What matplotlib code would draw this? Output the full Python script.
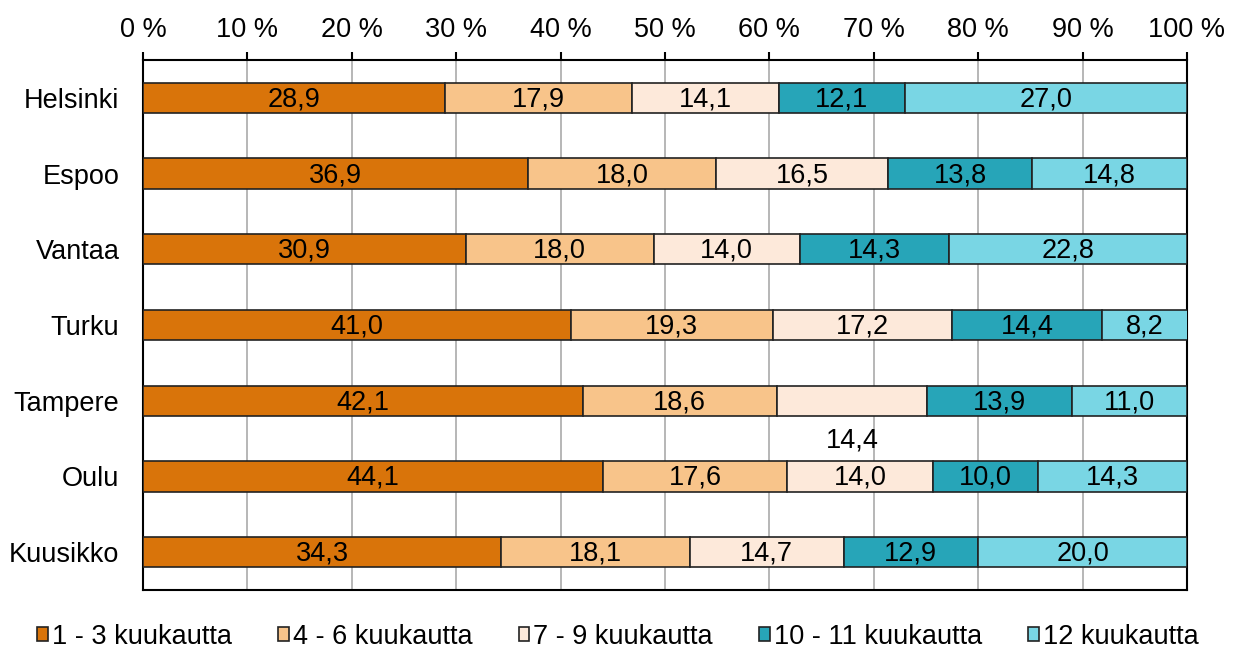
import matplotlib
matplotlib.use("Agg")
import matplotlib.pyplot as plt
from matplotlib.patches import Patch

plt.rcParams['font.family'] = ['Liberation Sans', 'DejaVu Sans']

cities = ["Helsinki", "Espoo", "Vantaa", "Turku", "Tampere", "Oulu", "Kuusikko"]
series_names = ["1 - 3 kuukautta", "4 - 6 kuukautta", "7 - 9 kuukautta",
                "10 - 11 kuukautta", "12 kuukautta"]
s1 = [28.9, 36.9, 30.9, 41.0, 42.1, 44.1, 34.3]
s2 = [17.9, 18.0, 18.0, 19.3, 18.6, 17.6, 18.1]
s3 = [14.1, 16.5, 14.0, 17.2, 14.4, 14.0, 14.7]
s4 = [12.1, 13.8, 14.3, 14.4, 13.9, 10.0, 12.9]
s5 = [27.0, 14.8, 22.8, 8.2, 11.0, 14.3, 20.0]
colors = ["#D9740A", "#F8C48A", "#FDE9DA", "#27A5B8", "#79D6E4"]
xticks = [0, 10, 20, 30, 40, 50, 60, 70, 80, 90, 100]

series = [s1, s2, s3, s4, s5]
FS = 19.5

fig = plt.figure(figsize=(12.36, 6.48), dpi=100)
ax = fig.add_axes([143/1236, 1 - 590/648, (1187-143)/1236, (590-60)/648])

y = list(range(len(cities)))
left = [0.0] * len(cities)
for si, (vals, col) in enumerate(zip(series, colors)):
    ax.barh(y, vals, left=left, height=0.4, color=col, edgecolor="#222222",
            linewidth=1.2, zorder=3)
    for i, v in enumerate(vals):
        cx = left[i] + v / 2
        yy = i + 0.5 if (cities[i] == "Tampere" and si == 2) else i
        ax.text(cx, yy + 0.02, f"{v:.1f}".replace(".", ","), ha="center",
                va="center", fontsize=FS, zorder=4)
    left = [l + v for l, v in zip(left, vals)]

ax.set_xlim(0, 100)
ax.set_ylim(len(cities) - 0.5, -0.5)
ax.set_yticks(y)
ax.set_yticklabels(cities, fontsize=FS)
ax.set_xticks(xticks)
ax.set_xticklabels([f"{t} %" for t in xticks], fontsize=FS)
ax.xaxis.tick_top()
ax.tick_params(axis="x", length=5.5, width=1.5, pad=7, direction="out", color="black")
ax.tick_params(axis="y", length=0, pad=17)
ax.grid(axis="x", color="#AAAAAA", linewidth=1.2, zorder=0)
for sp in ax.spines.values():
    sp.set_color("black")
    sp.set_linewidth(1.5)

handles = [Patch(facecolor=c, edgecolor="#222222", linewidth=1.2) for c in colors]
fig.legend(handles, series_names, loc="center", bbox_to_anchor=(0.5, 1 - 637/648),
           ncol=5, frameon=False, fontsize=FS, handlelength=0.4, handleheight=0.42,
           handletextpad=0.15, columnspacing=1.7)

fig.savefig("out.png", dpi=100)
